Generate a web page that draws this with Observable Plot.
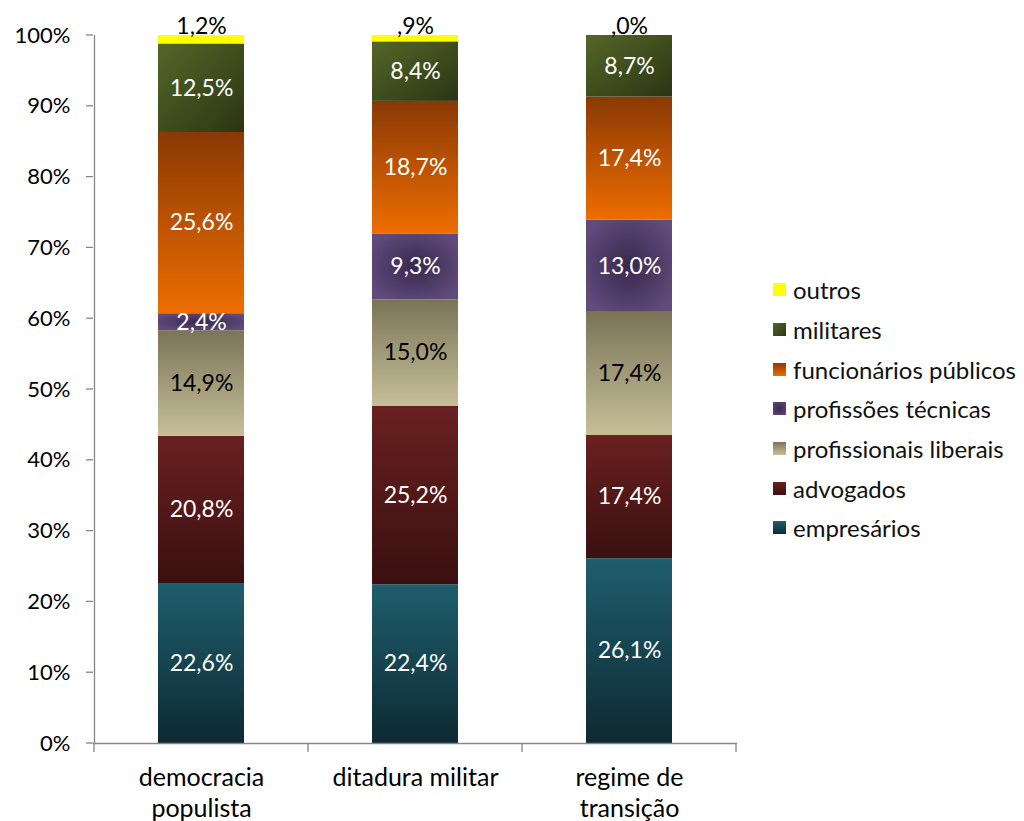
<!DOCTYPE html>
<html>
<head>
<meta charset="utf-8">
<script src="https://cdn.jsdelivr.net/npm/d3@7"></script>
<script src="https://cdn.jsdelivr.net/npm/@observablehq/plot@0.6"></script>
<style>
  html, body { margin: 0; padding: 0; background: #fff; }
  #wrap { position: relative; width: 1024px; height: 821px; font-family: Lato, "Open Sans", sans-serif; }
  #legend { position: absolute; left: 773px; top: 270px; }
  .li { display: flex; align-items: center; height: 39.7px; font-size: 24px; color: #111; white-space: nowrap; }
  .sw { width: 13px; height: 13px; margin-right: 7px; flex: none; }
</style>
</head>
<body>
<div id="wrap"><div id="chart"></div><div id="legend"></div></div>
<script>
const regimes = ["democracia populista", "ditadura militar", "regime de transição"];
const regimeLabels = ["democracia\npopulista", "ditadura militar", "regime de\ntransição"];
const groups = ["empresários", "advogados", "profissionais liberais", "profissões técnicas", "funcionários públicos", "militares", "outros"];
const empresarios = [22.6, 22.4, 26.1];
const advogados = [20.8, 25.2, 17.4];
const liberais = [14.9, 15.0, 17.4];
const tecnicas = [2.4, 9.3, 13.0];
const funcionarios = [25.6, 18.7, 17.4];
const militares = [12.5, 8.4, 8.7];
const outros = [1.2, 0.9, 0.0];
const yTicks = [0, 10, 20, 30, 40, 50, 60, 70, 80, 90, 100];

const series = [empresarios, advogados, liberais, tecnicas, funcionarios, militares, outros];
const data = [];
groups.forEach((g, gi) => regimes.forEach((r, ri) => data.push({regime: r, group: g, value: series[gi][ri]})));

const gradIds = {
  "empresários": "g-emp", "advogados": "g-adv", "profissionais liberais": "g-lib",
  "profissões técnicas": "g-tec", "funcionários públicos": "g-fun", "militares": "g-mil", "outros": "g-out"
};
const swatch = {
  "empresários": "linear-gradient(#1f5e6e, #0e2c34)",
  "advogados": "linear-gradient(#6a2020, #3a1010)",
  "profissionais liberais": "linear-gradient(#7c765a, #c6bf98)",
  "profissões técnicas": "radial-gradient(#3a2a4e, #604a7b)",
  "funcionários públicos": "linear-gradient(#8c3a05, #ee6d00)",
  "militares": "linear-gradient(135deg, #536628, #2c3614)",
  "outros": "#ffff00"
};
const textColor = g => (g === "profissionais liberais" || g === "outros") ? "black" : "white";
const fmt = v => {
  let s = v.toFixed(1).replace(".", ",");
  if (s.startsWith("0,")) s = s.slice(1);
  return s + "%";
};

const stackOpts = {x: "regime", y: "value", z: "group", order: groups, offset: "normalize"};

const font = "Lato, 'Open Sans', sans-serif";
const chart = Plot.plot({
  width: 1024,
  height: 821,
  marginTop: 35,
  marginBottom: 78,
  marginLeft: 93,
  marginRight: 287,
  style: {fontFamily: font, fontSize: "22px", color: "black", background: "white"},
  x: {domain: regimes, padding: 0, axis: null},
  y: {domain: [0, 1], axis: null},
  marks: [
    Plot.barY(data, Plot.stackY({
      ...stackOpts,
      fill: d => `url(#${gradIds[d.group]})`,
      insetLeft: 64, insetRight: 64
    })),
    Plot.text(data, Plot.stackY({
      ...stackOpts,
      text: d => d.group === "outros" ? null : fmt(d.value),
      fill: d => textColor(d.group),
      fontSize: 23
    })),
    Plot.text(data, Plot.stackY2({
      ...stackOpts,
      text: d => d.group === "outros" ? fmt(d.value) : null,
      fill: "black",
      fontSize: 23,
      dy: -9
    })),
    // axes
    Plot.ruleY([0], {stroke: "#868686", strokeWidth: 1.3}),
    Plot.ruleX([regimes[0]], {stroke: "#868686", strokeWidth: 1.3, dx: -107, y1: 0, y2: 1}),
    Plot.text(yTicks, {y: d => d / 100, text: d => d + "%", frameAnchor: "left", textAnchor: "end", dx: -23, fontSize: 22, fill: "black"}),
    Plot.text(regimeLabels.map((l, i) => ({regime: regimes[i], label: l})), {x: "regime", y: 0, text: "label", lineAnchor: "top", dy: 20, lineHeight: 1.24, fontSize: 25, fill: "black"})
  ]
});

const svg = d3.select(chart);
const yScale = chart.scale("y");
const xScale = chart.scale("x");
const tg = svg.append("g").attr("stroke", "#868686").attr("stroke-width", 1.3);
yTicks.forEach(t => {
  const yy = yScale.apply(t / 100);
  tg.append("line").attr("x1", 86).attr("x2", 93).attr("y1", yy).attr("y2", yy);
});
const bw = xScale.bandwidth;
const bounds = regimes.map(r => xScale.apply(r)).concat([xScale.apply(regimes[2]) + bw]);
bounds.forEach(xx => {
  tg.append("line").attr("x1", xx).attr("x2", xx).attr("y1", yScale.apply(0)).attr("y2", yScale.apply(0) + 9);
});

const defs = svg.insert("defs", ":first-child");
function lin(id, stops, x2 = 0, y2 = 1) {
  const g = defs.append("linearGradient").attr("id", id).attr("x1", 0).attr("y1", 0).attr("x2", x2).attr("y2", y2);
  stops.forEach(([o, c]) => g.append("stop").attr("offset", o).attr("stop-color", c));
}
lin("g-emp", [[0, "#1f5e6e"], [1, "#0d2a32"]]);
lin("g-adv", [[0, "#6a2020"], [1, "#3a1010"]]);
lin("g-lib", [[0, "#7a7458"], [1, "#c6bf98"]]);
lin("g-fun", [[0, "#8a3905"], [1, "#ee6d00"]]);
lin("g-mil", [[0, "#546728"], [1, "#2b3513"]], 1, 1);
lin("g-out", [[0, "#ffff00"], [1, "#ffff00"]]);
const rg = defs.append("radialGradient").attr("id", "g-tec").attr("cx", 0.5).attr("cy", 0.5).attr("r", 0.6);
rg.append("stop").attr("offset", 0).attr("stop-color", "#38284c");
rg.append("stop").attr("offset", 1).attr("stop-color", "#614b7d");

document.getElementById("chart").appendChild(chart);

const legend = d3.select("#legend");
[...groups].reverse().forEach(g => {
  const row = legend.append("div").attr("class", "li");
  row.append("div").attr("class", "sw").style("background", swatch[g]);
  row.append("span").text(g);
});
</script>
</body>
</html>
